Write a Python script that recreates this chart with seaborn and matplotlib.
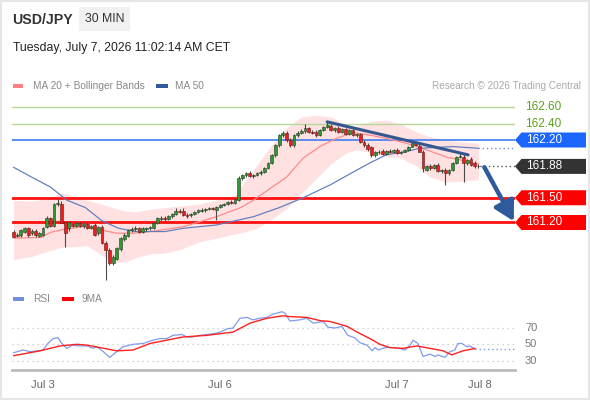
import numpy as np
import pandas as pd
import matplotlib
matplotlib.use("Agg")
import matplotlib.pyplot as plt
import seaborn as sns
from matplotlib.patches import Rectangle, Polygon

# ---------------- DATA ----------------
opens = [161.09,161.04,161.05,161.09,161.13,161.07,161.10,161.04,161.05,161.15,
         161.25,161.16,161.42,161.43,161.20,161.13,161.18,161.16,161.19,161.16,
         161.18,161.13,161.17,161.07,161.15,160.95,160.87,160.71,160.76,160.88,
         161.00,161.04,161.11,161.12,161.13,161.08,161.12,161.13,161.13,161.19,
         161.24,161.26,161.24,161.28,161.30,161.34,161.34,161.29,161.29,161.30,
         161.33,161.34,161.35,161.36,161.38,161.35,161.39,161.41,161.42,161.45,
         161.44,161.47,161.74,161.77,161.80,161.76,161.77,161.80,161.81,161.86,
         161.92,162.02,162.14,162.26,162.29,162.20,162.14,162.26,162.29,162.31,
         162.35,162.30,162.30,162.26,162.32,162.36,162.37,162.32,162.35,162.30,
         162.33,162.27,162.32,162.26,162.27,162.18,162.14,162.11,162.02,162.06,
         162.07,162.03,162.07,162.05,162.08,162.04,162.06,162.08,162.12,162.16,
         162.13,162.06,161.84,161.89,161.86,161.90,161.82,161.84,161.80,161.84,
         161.92,162.00,162.00,161.92,161.97,161.92,161.89]
highs = [161.11,161.07,161.12,161.15,161.15,161.12,161.12,161.09,161.15,161.28,
         161.27,161.44,161.49,161.46,161.22,161.22,161.21,161.20,161.21,161.20,
         161.20,161.17,161.19,161.16,161.17,160.97,160.89,160.80,160.90,161.02,
         161.07,161.12,161.14,161.16,161.15,161.15,161.15,161.16,161.20,161.27,
         161.28,161.28,161.29,161.31,161.38,161.36,161.38,161.31,161.32,161.34,
         161.36,161.37,161.38,161.39,161.39,161.40,161.42,161.44,161.46,161.47,
         161.50,161.76,161.79,161.81,161.82,161.79,161.81,161.84,161.87,161.93,
         162.03,162.15,162.27,162.31,162.31,162.23,162.27,162.31,162.33,162.40,
         162.36,162.32,162.32,162.33,162.37,162.42,162.39,162.36,162.37,162.35,
         162.35,162.33,162.33,162.29,162.29,162.20,162.16,162.13,162.07,162.08,
         162.09,162.08,162.09,162.09,162.10,162.07,162.09,162.13,162.18,162.19,
         162.15,162.08,161.90,161.91,161.91,161.92,161.85,161.86,161.85,161.93,
         162.01,162.05,162.03,161.97,161.99,161.94,161.91]
lows = [161.02,161.02,161.03,161.07,161.03,161.05,161.03,161.02,161.04,161.13,
        161.14,161.14,161.40,161.19,160.90,161.10,161.15,161.14,161.14,161.13,
        161.12,161.12,161.04,161.05,160.94,160.50,160.69,160.68,160.74,160.86,
        160.98,161.02,161.08,161.10,161.07,161.07,161.10,161.11,161.12,161.18,
        161.22,161.22,161.23,161.26,161.29,161.31,161.28,161.26,161.27,161.29,
        161.31,161.33,161.33,161.35,161.35,161.23,161.37,161.40,161.41,161.42,
        161.43,161.46,161.72,161.75,161.75,161.74,161.76,161.78,161.80,161.85,
        161.91,162.00,162.12,162.24,162.18,162.12,162.12,162.24,162.27,162.29,
        162.28,162.27,162.24,162.25,162.31,162.35,162.31,162.30,162.29,162.29,
        162.26,162.26,162.25,162.24,162.16,162.12,162.07,162.00,162.00,162.03,
        162.02,162.02,162.04,162.04,162.03,162.03,162.05,162.07,162.11,162.13,
        162.05,161.81,161.82,161.84,161.85,161.81,161.80,161.66,161.78,161.83,
        161.91,161.98,161.69,161.90,161.88,161.86,161.86]
closes = [161.03,161.05,161.11,161.13,161.05,161.10,161.05,161.07,161.13,161.26,
          161.16,161.42,161.44,161.19,161.07,161.21,161.16,161.19,161.16,161.18,
          161.13,161.16,161.05,161.15,160.95,160.87,160.71,160.78,160.89,161.01,
          161.05,161.11,161.12,161.13,161.08,161.13,161.13,161.14,161.19,161.25,
          161.26,161.24,161.28,161.30,161.34,161.33,161.29,161.28,161.30,161.33,
          161.35,161.35,161.36,161.38,161.36,161.39,161.41,161.43,161.45,161.44,
          161.48,161.74,161.77,161.80,161.76,161.78,161.80,161.81,161.86,161.92,
          162.02,162.14,162.26,162.29,162.20,162.14,162.26,162.29,162.31,162.35,
          162.30,162.29,162.26,162.32,162.36,162.38,162.32,162.35,162.30,162.33,
          162.27,162.32,162.26,162.27,162.18,162.14,162.09,162.02,162.06,162.05,
          162.03,162.07,162.05,162.08,162.04,162.06,162.08,162.12,162.16,162.14,
          162.06,161.86,161.89,161.86,161.90,161.82,161.84,161.80,161.84,161.92,
          162.00,162.01,161.92,161.96,161.90,161.88,161.88]

ma20_idx = [0, 7.5, 10, 13, 19, 21, 23.5, 28, 32.5, 37, 46, 55, 61.5, 65, 74, 78.5,
            83, 87.5, 92, 96.5, 101, 106.5, 112, 117.5, 121, 124.5, 126]
ma20_val = [161.01, 161.02, 161.08, 161.11, 161.15, 161.13, 161.11, 161.07, 161.07,
            161.09, 161.15, 161.27, 161.38, 161.47, 161.75, 161.98, 162.12, 162.22,
            162.29, 162.26, 162.22, 162.16, 162.08, 161.99, 161.96, 161.92, 161.91]

band_idx = [0, 5, 10, 13, 17, 20, 24, 27, 30, 33, 37, 41, 45, 50, 55, 60, 63, 66, 70,
            74, 78, 82, 86, 90, 93, 97, 101, 105, 109, 113, 117, 121, 126]
band_upper = [161.47, 161.46, 161.50, 161.56, 161.51, 161.47, 161.42, 161.38, 161.34,
              161.33, 161.36, 161.38, 161.40, 161.42, 161.47, 161.53, 161.72, 161.90,
              162.14, 162.35, 162.48, 162.50, 162.48, 162.39, 162.37, 162.43, 162.44,
              162.39, 162.30, 162.24, 162.20, 162.18, 162.16]
band_lower = [160.75, 160.79, 160.86, 160.90, 160.91, 160.92, 160.80, 160.72, 160.72,
              160.77, 160.82, 160.83, 160.87, 160.96, 161.01, 161.06, 161.09, 161.13,
              161.24, 161.37, 161.55, 161.73, 161.91, 162.04, 162.08, 162.05, 162.00,
              161.98, 161.89, 161.75, 161.69, 161.70, 161.72]

ma50_idx = [0, 4.5, 10, 14.5, 19.5, 24, 28.5, 33, 37, 41, 46, 55, 65, 72, 78.5, 86,
            92, 96.5, 101, 106.5, 110, 119, 126]
ma50_val = [161.87, 161.76, 161.63, 161.47, 161.38, 161.22, 161.13, 161.09, 161.09,
            161.09, 161.13, 161.17, 161.27, 161.38, 161.50, 161.66, 161.81, 161.92,
            162.02, 162.06, 162.10, 162.12, 162.10]

rsi_idx = [0, 2.6, 4.5, 6.4, 8, 9.3, 10.7, 12.1, 13.1, 14.5, 15.9, 18, 19.9, 21.5, 22.6,
           24.3, 26.1, 28, 29.7, 32.4, 35.1, 37.8, 39.7, 41.6, 43.2, 45.7, 47, 48.6, 50.5,
           52.4, 54.1, 56, 57.9, 59.5, 61.4, 63.3, 64.9, 66.8, 68.7, 70.3, 72.8, 73.6,
           74.9, 77.6, 79.5, 81.2, 83.9, 85.2, 87.1, 89, 90.6, 92.5, 93.9, 95.8, 97.2,
           98, 98.8, 100.7, 102.9, 104.7, 106.1, 107.5, 108.3, 109.6, 111, 112.9, 114.2,
           115, 116.9, 118.3, 119.6, 120.4, 121.5, 122.9, 123.7, 125.1]
rsi_val = [39.7, 43, 41, 41.8, 43, 51, 57, 58, 51, 45, 49, 48, 48, 45, 47, 41, 34, 41,
           47, 50, 51, 55, 57, 57, 61, 62, 59, 59, 61, 62, 63, 65, 69, 70, 82, 83, 80,
           82, 83, 87, 90, 88, 78.6, 80, 82, 76, 78, 71, 70, 72, 61, 58, 52, 49, 42, 46,
           43, 46, 46, 45, 43, 49, 55, 51, 35, 38, 35, 37, 34, 41, 43, 51, 51, 47, 48, 44]

ma9_idx = [0, 7.2, 12.6, 17.2, 19.9, 23.4, 28, 32.4, 37, 45.9, 52.4, 59.5, 64.1, 68.7,
           73, 74.9, 79.5, 83.1, 85.8, 90.4, 93.1, 96.6, 99.3, 102, 105.5, 109.3, 112.9,
           116.4, 118.8, 121.8, 125.1]
ma9_val = [36, 42, 48, 50, 49, 46, 42, 43, 51, 59, 61, 65, 76, 82, 85, 84, 83, 79, 78,
           72, 65, 57, 50, 46, 45, 48, 45, 42, 37, 42, 45]

level_res = [162.60, 162.40]
level_pivot = 162.20
last_price = 161.88
level_sup = [161.50, 161.20]
rsi_levels = [70, 50, 30]

tick_idx = [8.0, 56.0, 103.9, 126.4]
tick_labels = ["Jul 3", "Jul 6", "Jul 7", "Jul 8"]

trend_idx = [85, 123.2]
trend_val = [162.42, 162.02]

# ---------------- STYLE / LAYOUT ----------------
sns.set_theme(style="white")
plt.rcParams['font.family'] = ['Liberation Sans', 'DejaVu Sans']

W, H = 590, 400
fig = plt.figure(figsize=(5.9, 4.0), dpi=100)
fig.patch.set_facecolor("white")


def fx(px):
    return px / W


def fy(py):
    return 1 - py / H


C0, STEP = 13.5, 3.69
XL = ((12 - C0) / STEP, (515 - C0) / STEP)

ax = fig.add_axes([fx(12), fy(285), (515 - 12) / W, 190 / H])
ax.set_xlim(*XL)
ax.set_ylim(160.4424, 162.7455)
ax.axis("off")

n = len(closes)
xs = np.arange(n)

# Bollinger band
ax.fill_between(band_idx, band_lower, band_upper, color="#ffe1e1", lw=0, zorder=1)

# horizontal levels
for v in level_res:
    ax.axhline(v, color="#b5d89a", lw=1.0, zorder=2)
ax.axhline(level_pivot, color="#3f7cf0", lw=1.2, zorder=2)
for v in level_sup:
    ax.axhline(v, color="#ff1010", lw=2.0, zorder=2)
ax.axhline(160.445, color="#e3e3e3", lw=0.8, ls=(0, (1, 2)), zorder=1)

# moving averages
sns.lineplot(x=ma20_idx, y=ma20_val, ax=ax, color="#ff8a8a", lw=0.9, sort=False,
             legend=False, zorder=3)
sns.lineplot(x=ma50_idx, y=ma50_val, ax=ax, color="#5a7cc0", lw=0.85, sort=False,
             legend=False, zorder=3)
ax.plot([ma50_idx[-1], XL[1]], [ma50_val[-1]] * 2, color="#6d8fd8", lw=1.0,
        ls=(0, (1, 2)), zorder=3)
ax.plot([n - 1 + 0.3, XL[1]], [last_price] * 2, color="#555555", lw=1.0,
        ls=(0, (1, 2)), zorder=3)

# candles
o = np.array(opens); c = np.array(closes); h = np.array(highs); l = np.array(lows)
up = c >= o
ax.vlines(xs, l, h, color="#4a4a4a", lw=0.8, zorder=4)
body = np.where(np.abs(c - o) < 0.008, 0.008, c - o)
ax.bar(xs[up], body[up], bottom=o[up], width=0.75, color="#2c9a2c",
       edgecolor="#2a3a2a", lw=0.4, zorder=5)
ax.bar(xs[~up], body[~up], bottom=o[~up], width=0.75, color="#ee1c1c",
       edgecolor="#5a1a1a", lw=0.4, zorder=5)

# trendline
ax.plot(trend_idx, trend_val, color="#34578f", lw=2.2, solid_capstyle="round", zorder=6)

# arrow
ax.annotate("", xy=(135.6, 161.215), xytext=(127.6, 161.87),
            arrowprops=dict(arrowstyle="-|>,head_length=0.9,head_width=0.5",
                            color="#2f5b9c", lw=3.2, mutation_scale=13,
                            shrinkA=0, shrinkB=0),
            annotation_clip=False, zorder=7)


def pfy(a, v):
    return fig.transFigure.inverted().transform(a.transData.transform((0, v)))[1]


def tag(v, color, a=ax):
    yc = pfy(a, v)
    hh = 7.5 / H
    pts = [(fx(515), yc), (fx(521.5), yc + hh), (fx(586), yc + hh),
           (fx(586), yc - hh), (fx(521.5), yc - hh)]
    fig.patches.append(Polygon(pts, closed=True, transform=fig.transFigure,
                               facecolor=color, edgecolor="none", zorder=10))
    fig.text(fx(526), yc, f"{v:.2f}", color="white", fontsize=8.5,
             va="center", ha="left", zorder=11)


for v in level_res:
    fig.text(fx(525), pfy(ax, v), f"{v:.2f}", color="#5ea01e", fontsize=8.5,
             va="center", ha="left")
tag(level_pivot, "#1a66ff")
tag(last_price, "#333333")
for v in level_sup:
    tag(v, "#ff0000")

# ---------------- RSI PANEL ----------------
rx = fig.add_axes([fx(12), fy(370), (515 - 12) / W, 60 / H])
rx.set_xlim(*XL)
rx.set_ylim(18.47, 92.1)
for s in ["top", "right", "left"]:
    rx.spines[s].set_visible(False)
rx.spines["bottom"].set_color("#bbbbbb")
rx.spines["bottom"].set_linewidth(2.0)
rx.set_yticks([])
rx.set_xticks(tick_idx)
rx.set_xticklabels(tick_labels, color="#666666", fontsize=8)
rx.tick_params(axis="x", which="major", length=0, pad=7)
rx.set_xticks([XL[0] + 0.05, XL[1] - 0.05], minor=True)
rx.tick_params(axis="x", which="minor", length=5, width=1.5, color="#bbbbbb")
rx.set_facecolor("none")
for v in rsi_levels:
    rx.axhline(v, color="#c4c4c4", lw=0.9, ls=(0, (1, 3)), zorder=1)
    fig.text(fx(525), pfy(rx, v), f"{v}", color="#777777", fontsize=8,
             va="center", ha="left")
sns.lineplot(x=rsi_idx, y=rsi_val, ax=rx, color="#7f9cec", lw=0.9, sort=False,
             legend=False, zorder=3)
sns.lineplot(x=ma9_idx, y=ma9_val, ax=rx, color="#ff2020", lw=1.0, sort=False,
             legend=False, zorder=4)
rx.plot([rsi_idx[-1], XL[1]], [rsi_val[-1]] * 2, color="#7f9cec", lw=1.0,
        ls=(0, (1, 2)), zorder=3)
rx.set_xlabel("")
rx.set_ylabel("")

# ---------------- HEADER / LEGENDS ----------------
fig.text(fx(12), fy(20), "USD/JPY", fontsize=10.2, fontweight="bold", color="#333333",
         va="center", ha="left")
fig.patches.append(Rectangle((fx(79), fy(31)), 51 / W, 24 / H, transform=fig.transFigure,
                             facecolor="#f1f1f1", edgecolor="none", zorder=0))
fig.text(fx(104.5), fy(19.5), "30 MIN", fontsize=8.8, color="#333333",
         va="center", ha="center")
fig.text(fx(13), fy(48), "Tuesday, July 7, 2026 11:02:14 AM CET", fontsize=8.8,
         color="#222222", va="center", ha="left")

fig.patches.append(Rectangle((fx(13), fy(88)), 10 / W, 4 / H, transform=fig.transFigure,
                             facecolor="#ff8080", edgecolor="none"))
fig.text(fx(33), fy(86), "MA 20 + Bollinger Bands", fontsize=7.3, color="#888888",
         va="center", ha="left")
fig.patches.append(Rectangle((fx(156), fy(88)), 12 / W, 4 / H, transform=fig.transFigure,
                             facecolor="#2f5b9c", edgecolor="none"))
fig.text(fx(175), fy(86), "MA 50", fontsize=7.3, color="#888888",
         va="center", ha="left")
fig.text(fx(581), fy(86), "Research \u00a9 2026 Trading Central", fontsize=7.2,
         color="#aaaaaa", va="center", ha="right")

fig.patches.append(Rectangle((fx(13), fy(301)), 11 / W, 4 / H, transform=fig.transFigure,
                             facecolor="#6f8fe0", edgecolor="none"))
fig.text(fx(33), fy(299), "RSI", fontsize=7.3, color="#888888", va="center", ha="left")
fig.patches.append(Rectangle((fx(62), fy(301)), 12 / W, 4 / H, transform=fig.transFigure,
                             facecolor="#ff0000", edgecolor="none"))
fig.text(fx(82), fy(299), "9MA", fontsize=7.3, color="#888888", va="center", ha="left")

# outer frame
fig.patches.append(Rectangle((0.001, 0.002), 0.997, 0.996, transform=fig.transFigure,
                             facecolor="none", edgecolor="#e6e6e6", lw=1.5))

fig.savefig("out.png", dpi=100, facecolor="white")
